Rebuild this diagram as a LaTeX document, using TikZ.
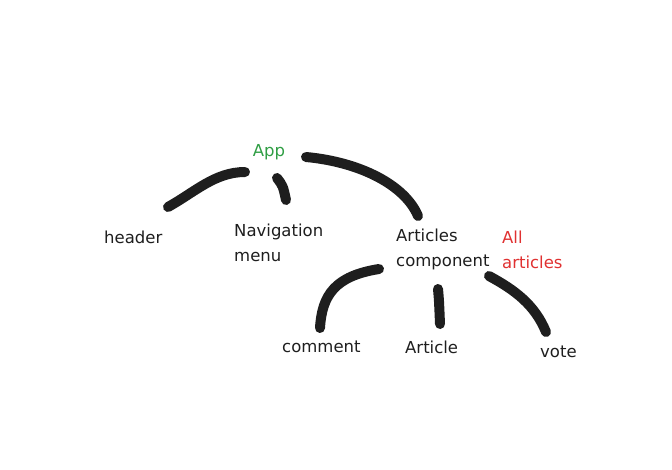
\documentclass[tikz,border=0pt]{standalone}
\usepackage{fontspec}
\setmainfont{DejaVu Sans}
\usepackage{tikz}
\definecolor{inkblack}{HTML}{1E1E1E}
\definecolor{inkgreen}{HTML}{2F9E44}
\definecolor{inkred}{HTML}{E03131}
\tikzset{%
  word/.style = {inner sep=0pt,anchor=west,align=left,text=inkblack,
        font=\fontsize{16.5}{25}\selectfont},
  stroke/.style = {draw=inkblack,line width=10pt,line cap=round}
}
\begin{document}
\begin{tikzpicture}[x=1pt,y=-1pt]
\useasboundingbox (0,0) rectangle (672,469);
% labels
\node[word,anchor=center,text=inkgreen] (app) at (269,152) {App};
\node[word] (header) at (104,237) {header};
\node[word] (nav) at (234,243) {Navigation\\menu};
\node[word] (comp) at (396,249.5) {Articles\\component};
\node[word,text=inkred] (all) at (502,249.5) {All\\articles};
\node[word] (comment) at (282,347) {comment};
\node[word] (article) at (405,347) {Article};
\node[word] (vote) at (540,352) {vote};
% stroke ends
\coordinate (app-l) at (245,172);
\coordinate (app-m) at (277,178);
\coordinate (app-r) at (306,157);
\coordinate (header-t) at (168,207);
\coordinate (nav-t) at (286,200);
\coordinate (comp-t) at (418,216);
\coordinate (comp-l) at (379,269);
\coordinate (comp-m) at (438,289);
\coordinate (comp-r) at (489,276);
\coordinate (comment-t) at (320,328);
\coordinate (article-t) at (440,324);
\coordinate (vote-t) at (546,332);
% connectors
\draw[stroke] (app-l) .. controls (215,172) and (195,192) .. (header-t);
\draw[stroke] (app-m) .. controls (283,186) .. (nav-t);
\draw[stroke] (app-r) .. controls (360,162) and (405,185) .. (comp-t);
\draw[stroke] (comp-l) .. controls (335,276) and (322,295) .. (comment-t);
\draw[stroke] (comp-m) .. controls (439,300) .. (article-t);
\draw[stroke] (comp-r) .. controls (515,290) and (535,305) .. (vote-t);
\end{tikzpicture}
\end{document}
